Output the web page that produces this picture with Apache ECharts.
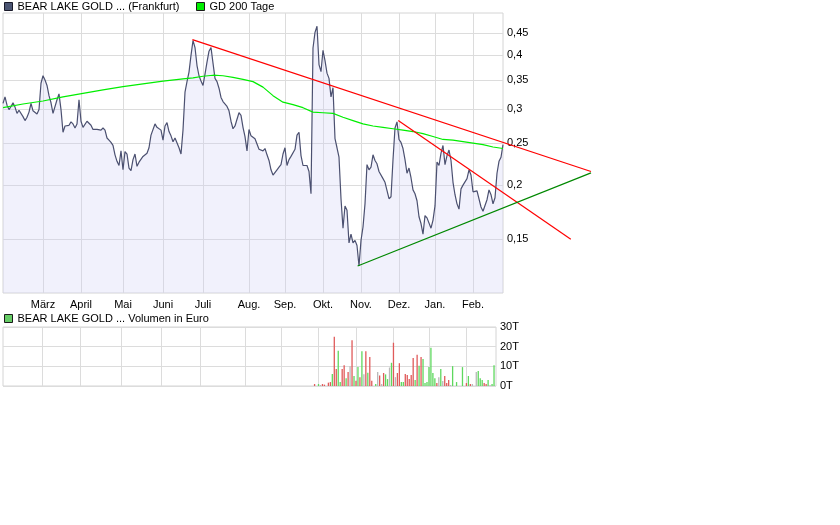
<!DOCTYPE html>
<html><head><meta charset="utf-8">
<script src="https://cdn.jsdelivr.net/npm/echarts@6/dist/echarts.min.js"></script>
<style>html,body{margin:0;padding:0;background:#fff}#c{width:840px;height:525px}</style>
</head><body><div id="c"></div>
<script>
const priceName = 'BEAR LAKE GOLD ... (Frankfurt)';
const maName = 'GD 200 Tage';
const volName = 'BEAR LAKE GOLD ... Volumen in Euro';
const monthLabels = ['März','April','Mai','Juni','Juli','Aug.','Sep.','Okt.','Nov.','Dez.','Jan.','Feb.'];
const monthStarts = [20,39,60,80,100,123,141,160,179,198,216,235];
const priceTicks = [0.15,0.2,0.25,0.3,0.35,0.4,0.45];
const volTicks = [0,10,20,30];

const price = [
0.309,0.320,0.306,0.299,0.304,0.310,0.303,0.293,0.298,0.297,
0.288,0.282,0.287,0.295,0.309,0.297,0.294,0.292,0.299,0.344,
0.358,0.350,0.340,0.322,0.310,0.293,0.293,0.315,0.325,0.299,
0.265,0.274,0.272,0.275,0.280,0.277,0.271,0.277,0.315,0.281,
0.272,0.272,0.281,0.282,0.275,0.269,0.268,0.269,0.269,0.268,
0.271,0.268,0.257,0.254,0.251,0.247,0.235,0.227,0.222,0.240,
0.217,0.239,0.236,0.219,0.216,0.229,0.236,0.221,0.226,0.226,
0.233,0.233,0.237,0.244,0.261,0.263,0.277,0.272,0.272,0.268,
0.254,0.274,0.279,0.266,0.260,0.252,0.257,0.256,0.244,0.236,
0.268,0.328,0.347,0.365,0.399,0.432,0.416,0.378,0.358,0.348,
0.340,0.361,0.385,0.408,0.416,0.383,0.353,0.347,0.335,0.319,
0.312,0.309,0.304,0.297,0.281,0.270,0.274,0.284,0.294,0.290,
0.272,0.259,0.240,0.269,0.260,0.262,0.256,0.256,0.242,0.240,
0.240,0.243,0.235,0.228,0.217,0.211,0.211,0.217,0.220,0.223,
0.236,0.244,0.222,0.229,0.233,0.233,0.242,0.261,0.265,0.234,
0.222,0.224,0.222,0.215,0.191,0.415,0.451,0.466,0.380,0.366,
0.410,0.388,0.363,0.353,0.320,0.336,0.256,0.244,0.232,0.186,
0.159,0.179,0.175,0.147,0.154,0.147,0.149,0.145,0.130,0.149,
0.160,0.181,0.223,0.217,0.220,0.235,0.228,0.224,0.215,0.216,
0.207,0.203,0.203,0.186,0.188,0.229,0.271,0.280,0.255,0.251,
0.243,0.229,0.213,0.219,0.208,0.195,0.191,0.184,0.169,0.163,
0.154,0.170,0.168,0.168,0.159,0.166,0.179,0.226,0.222,0.237,
0.247,0.223,0.234,0.241,0.228,0.203,0.190,0.181,0.176,0.196,
0.200,0.202,0.207,0.217,0.211,0.193,0.192,0.194,0.194,0.178,
0.174,0.175,0.185,0.195,0.190,0.181,0.187,0.213,0.227,0.232,0.248
];

const maIdx = [0,10,20,30,40,50,60,70,80,90,95,100,105,110,115,120,125,130,135,140,145,150,155,160,165,170,175,180,185,190,195,200,205,210,215,220,225,230,235,240,245,250];
const maVal = [0.302,0.308,0.313,0.320,0.326,0.332,0.338,0.343,0.348,0.352,0.354,0.357,0.359,0.358,0.355,0.351,0.347,0.337,0.322,0.311,0.307,0.302,0.295,0.294,0.293,0.287,0.282,0.277,0.274,0.272,0.270,0.268,0.266,0.263,0.259,0.255,0.254,0.252,0.250,0.248,0.245,0.243];

const volIdx = [158,160,161,162,163,165,166,167,168,169,170,171,172,173,174,175,176,177,178,179,180,181,182,183,184,185,186,187,189,190,191,192,193,194,195,196,197,198,199,200,201,202,203,204,205,206,207,208,209,210,211,212,213,214,215,216,217,218,219,220,221,222,223,224,225,226,227,228,230,233,235,236,237,238,240,241,242,243,244,245,246,247,248,249];
const volVal = [1.0,1.0,0.5,1.0,0.7,1.7,2.0,6.1,25.0,8.6,17.9,2.0,8.6,10.6,4.0,7.1,10.1,23.3,5.1,2.7,9.6,4.4,17.7,6,17.7,6.7,14.7,2.7,1.0,7.1,5.4,1.0,6.6,5.9,3.5,9.4,11.8,22.0,4.5,6.6,11.6,2.0,2.0,6.1,5.6,3.5,5.6,14.2,3,15.9,10.3,14.7,13.7,1.5,2.0,9.6,19.4,6.6,4.0,1.5,4.5,8.6,2.5,5.1,1.5,3.0,0.5,10.1,2.0,9.6,1.5,5.1,1.0,1.0,7.1,7.6,4.0,3.0,1.5,1.0,3.0,0.5,1.0,10.6];
const volDir = ['d','u','n','d','d','d','d','u','d','d','u','u','d','d','u','d','n','d','u','d','u','d','u','n','d','u','d','d','u','n','d','n','d','u','u','n','u','d','n','d','d','u','u','d','d','d','d','d','u','d','u','d','u','u','u','u','u','u','u','d','n','u','n','d','d','d','n','u','u','u','d','u','d','n','n','u','u','u','d','d','u','n','u','u'];

const trendUpper = [[94.7,0.434],[294,0.215]];
const trendDown = [[197.6,0.282],[283.9,0.150]];
const trendSupport = [[177.3,0.130],[294,0.2135]];

const days = price.map((_, i) => String(i));
const font = 'Liberation Sans, Arial, sans-serif';
const gridColor = '#dcdcdc';
const dirColor = {u:'#5ed85e', d:'#e05a5a', n:'#b9b9b9'};
const isMonth = i => monthStarts.indexOf(Number(i)) >= 0;
const yMin = 0.1126, yMax = 0.5;

const chart = echarts.init(document.getElementById('c'), null, {renderer:'canvas'});
const legendBase = {itemWidth:8, itemHeight:8, icon:'rect', selectedMode:false, itemGap:0, padding:0,
  textStyle:{fontSize:11, fontFamily:font, color:'#000'}};
chart.setOption({
  animation:false,
  backgroundColor:'#fff',
  textStyle:{fontFamily:font},
  legend:[
    Object.assign({}, legendBase, {left:4, top:1, data:[{name:priceName, itemStyle:{color:'#4b5573', borderColor:'#1a1a2a', borderWidth:1}}]}),
    Object.assign({}, legendBase, {left:196, top:1, data:[{name:maName, itemStyle:{color:'#00ee00', borderColor:'#1a1a1a', borderWidth:1}}]}),
    Object.assign({}, legendBase, {left:4, top:313, data:[{name:volName, itemStyle:{color:'#66cc66', borderColor:'#1a1a1a', borderWidth:1}}]})
  ],
  grid:[
    {left:3, right:337, top:13, bottom:232, show:true, borderColor:'#d4d4d4', borderWidth:1},
    {left:3, right:344, top:327, bottom:139, show:true, borderColor:'#d4d4d4', borderWidth:1},
    {left:3, right:249, top:13, bottom:232, show:false}
  ],
  xAxis:[
    {type:'category', gridIndex:0, data:days, boundaryGap:false,
     axisLine:{show:false}, axisTick:{show:false},
     axisLabel:{interval:(i)=>isMonth(i), formatter:(v)=>monthLabels[monthStarts.indexOf(Number(v))], fontSize:11, fontFamily:font, color:'#000', margin:6},
     splitLine:{show:true, interval:(i)=>isMonth(i), lineStyle:{color:gridColor, width:1}}},
    {type:'category', gridIndex:1, data:days, boundaryGap:false,
     axisLine:{show:false}, axisTick:{show:false}, axisLabel:{show:false},
     splitLine:{show:true, interval:(i)=>isMonth(i), lineStyle:{color:gridColor, width:1}}},
    {type:'value', gridIndex:2, min:0, max:294, show:false}
  ],
  yAxis:[
    {type:'log', gridIndex:0, position:'right', min:yMin, max:yMax,
     axisLine:{show:false}, axisTick:{show:false, customValues:priceTicks},
     axisLabel:{customValues:priceTicks, formatter:(v)=>String(Number(v.toFixed(2))).replace('.',','), margin:4, fontSize:11, fontFamily:font, color:'#000'},
     splitLine:{show:true, lineStyle:{color:gridColor, width:1}}},
    {type:'value', gridIndex:1, position:'right', min:0, max:30, interval:10,
     axisLine:{show:false}, axisTick:{show:false},
     axisLabel:{formatter:(v)=>v+'T', margin:4, fontSize:11, fontFamily:font, color:'#000'},
     splitLine:{show:true, lineStyle:{color:gridColor, width:1}}},
    {type:'log', gridIndex:2, min:yMin, max:yMax, show:false}
  ],
  series:[
    {name:priceName, type:'line', xAxisIndex:0, yAxisIndex:0, data:price, symbol:'none',
     lineStyle:{color:'#4b5070', width:1.2}, itemStyle:{color:'#4b5573'},
     areaStyle:{color:'rgba(208,208,245,0.3)', opacity:1, origin:'start'}, z:2},
    {name:maName, type:'line', xAxisIndex:0, yAxisIndex:0, data:maIdx.map((x,k)=>[x, maVal[k]]), symbol:'none',
     lineStyle:{color:'#00ee00', width:1.2}, itemStyle:{color:'#00ee00'}, z:3},
    {name:volName, type:'bar', xAxisIndex:1, yAxisIndex:1, barWidth:1.3, itemStyle:{color:'#66cc66'},
     data:volIdx.map((x,k)=>({value:[x, volVal[k]], itemStyle:{color:dirColor[volDir[k]]}}))},
    {name:'trendUpper', type:'line', xAxisIndex:2, yAxisIndex:2, data:trendUpper, symbol:'none', silent:true,
     lineStyle:{color:'#ff0000', width:1.2}, z:4},
    {name:'trendDown', type:'line', xAxisIndex:2, yAxisIndex:2, data:trendDown, symbol:'none', silent:true,
     lineStyle:{color:'#ff0000', width:1.2}, z:4},
    {name:'trendSupport', type:'line', xAxisIndex:2, yAxisIndex:2, data:trendSupport, symbol:'none', silent:true,
     lineStyle:{color:'#008800', width:1.2}, z:4}
  ]
});
</script></body></html>
